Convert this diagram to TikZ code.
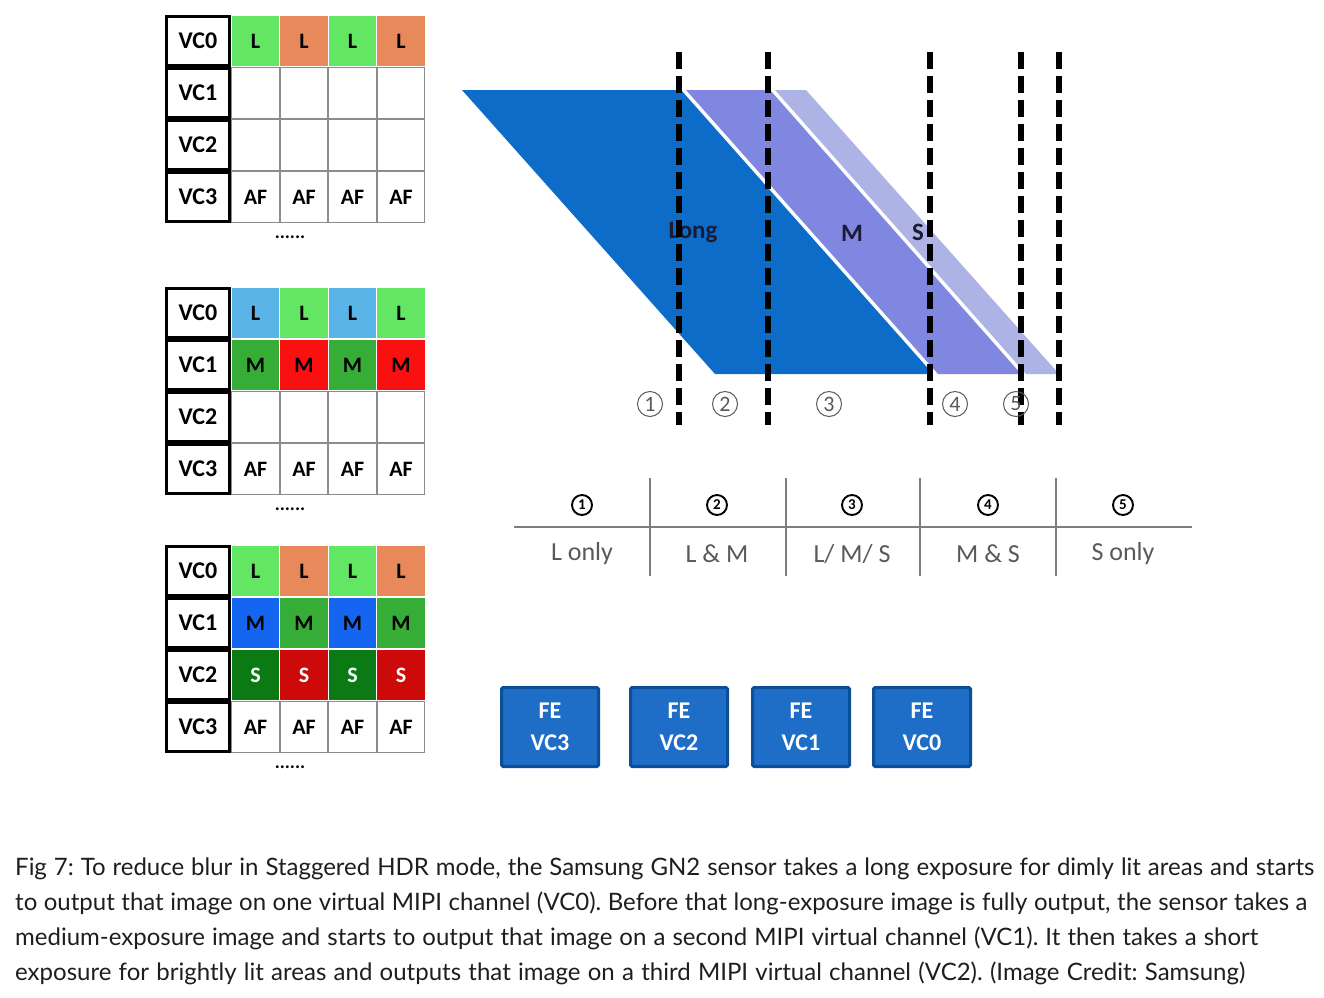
\documentclass[tikz,border=0pt]{standalone}
\usepackage{fontspec}
\setmainfont{Carlito}
\newfontfamily\capfont{Lato}
\usetikzlibrary{positioning}
\frenchspacing
\definecolor{Lgrn}{HTML}{63E663}
\definecolor{Lorg}{HTML}{E8895C}
\definecolor{Lblu}{HTML}{5AB4E8}
\definecolor{Mgrn}{HTML}{36AD36}
\definecolor{Mred}{HTML}{FA1010}
\definecolor{Mblu}{HTML}{1466F0}
\definecolor{Sgrn}{HTML}{0B7A14}
\definecolor{Sred}{HTML}{CC0A0A}
\definecolor{ExpL}{HTML}{0C6CC8}
\definecolor{ExpM}{HTML}{7F87E0}
\definecolor{ExpS}{HTML}{AEB3E6}
\definecolor{FEfill}{HTML}{1E6DC6}
\definecolor{FEedge}{HTML}{0D4E98}
\definecolor{Grid}{HTML}{8C8C8C}
\definecolor{Mute}{HTML}{595959}
\definecolor{Ink}{HTML}{1E1E1E}

\begin{document}
\begin{tikzpicture}[x=1pt,y=-1pt,
  vclab/.style={draw=black,line width=2.6pt,fill=white,minimum width=63pt,minimum height=49.4pt,inner sep=0pt,font=\bfseries\fontsize{24}{24}\selectfont},
  cell/.style={minimum width=47.3pt,minimum height=50.8pt,inner sep=0pt,line width=1.2pt,font=\bfseries\fontsize{22}{22}\selectfont},
  dots/.style={font=\bfseries\fontsize{19}{19}\selectfont,inner sep=0pt},
  explab/.style={text=Ink!90!blue,font=\bfseries\fontsize{25}{25}\selectfont,inner sep=0pt},
  cut/.style={line width=5.5pt,dash pattern=on 17pt off 7pt},
  zone/.style={circle,draw=Mute,line width=1pt,minimum size=25pt,inner sep=0pt,text=Mute,font=\fontsize{22}{22}\selectfont},
  tabnum/.style={circle,draw=black,line width=1.9pt,minimum size=20pt,inner sep=0pt,font=\bfseries\fontsize{15}{15}\selectfont},
  tabtxt/.style={text=Mute,font=\fontsize{26}{26}\selectfont,inner sep=0pt},
  tabrule/.style={draw=Grid!90!black,line width=2pt},
  febox/.style={draw=FEedge,line width=3pt,fill=FEfill,rounded corners=1.5pt,minimum width=97pt,minimum height=79pt,align=center,text=white,font=\bfseries\fontsize{24}{32}\selectfont},
  capline/.style={anchor=base west,inner sep=0pt,text=Ink,font=\capfont\fontsize{24}{24}\selectfont}]
  \useasboundingbox (0,0) rectangle (1324,997);

  \foreach \g/\y/\r/\ca/\cb/\t/\tc/\bd in {
    A/15/0/Lgrn/Lorg/L/black/none, A/15/1/white/white//black/Grid,
    A/15/2/white/white//black/Grid, A/15/3/white/white/AF/black/Grid,
    B/287/0/Lblu/Lgrn/L/black/none, B/287/1/Mgrn/Mred/M/black/none,
    B/287/2/white/white//black/Grid, B/287/3/white/white/AF/black/Grid,
    C/545/0/Lgrn/Lorg/L/black/none, C/545/1/Mblu/Mgrn/M/black/none,
    C/545/2/Sgrn/Sred/S/white/none, C/545/3/white/white/AF/black/Grid} {
    \foreach \c/\f in {0/\ca,1/\cb,2/\ca,3/\cb}
      \node[cell,fill=\f,draw=\bd,text=\tc] (\g-\r-\c) at ({255.5+48.5*\c},{\y+26+52*\r}) {\t};
  }
  \foreach \g/\y in {A/15,B/287,C/545} {
    \foreach \r in {0,...,3}
      \node[vclab] (\g-vc\r) at (198,{\y+26+52*\r}) {VC\r};
    \node[dots] (\g-dots) at (290,{\y+222}) {......};
  }

  \fill[ExpS] (775,90) -- (806,90) -- (1059,374) -- (1026,374) -- cycle;
  \fill[ExpM] (686,90) -- (770,90) -- (1021,374) -- (938,374) -- cycle;
  \fill[ExpL] (462,90) -- (681,90) -- (933,374) -- (715,374) -- cycle;
  \node[explab] (long) at (693,233) {Long};
  \node[explab] (mid) at (852,233) {M};
  \node[explab] (short) at (918,232) {S};
  \foreach \x in {679,768,930,1021,1059}
    \draw[cut] (\x,52) -- (\x,425);
  \foreach \n/\x in {1/650,2/725,3/829,4/955,5/1016}
    \node[zone] (z\n) at (\x,404) {\n};

  \draw[tabrule,line width=2.6pt] (514,527) -- (1192,527);
  \foreach \x in {650,786,920,1056}
    \draw[tabrule] (\x,478) -- (\x,576);
  \foreach \n/\x/\s in {1/582/L only,2/717/L \& M,3/852/{L/ M/ S},4/988/M \& S,5/1123/S only} {
    \node[tabnum] (t\n) at (\x,505) {\n};
    \node[tabtxt] (s\n) at (\x,554) {\s};
  }

  \foreach \n/\x in {3/550,2/679,1/801,0/922}
    \node[febox] (fe\n) at (\x,727) {FE\\VC\n};

  \node[capline] (cap1) at (15,875) {\makebox[1299pt][s]{Fig 7: To reduce blur in Staggered HDR mode, the Samsung GN2 sensor takes a long exposure for dimly lit areas and starts}};
  \node[capline] (cap2) at (15,910) {\makebox[1292pt][s]{to output that image on one virtual MIPI channel (VC0). Before that long-exposure image is fully output, the sensor takes a}};
  \node[capline] (cap3) at (15,945) {\makebox[1243pt][s]{medium-exposure image and starts to output that image on a second MIPI virtual channel (VC1). It then takes a short}};
  \node[capline] (cap4) at (15,980) {\makebox[1230pt][s]{exposure for brightly lit areas and outputs that image on a third MIPI virtual channel (VC2). (Image Credit: Samsung)}};
\end{tikzpicture}
\end{document}
